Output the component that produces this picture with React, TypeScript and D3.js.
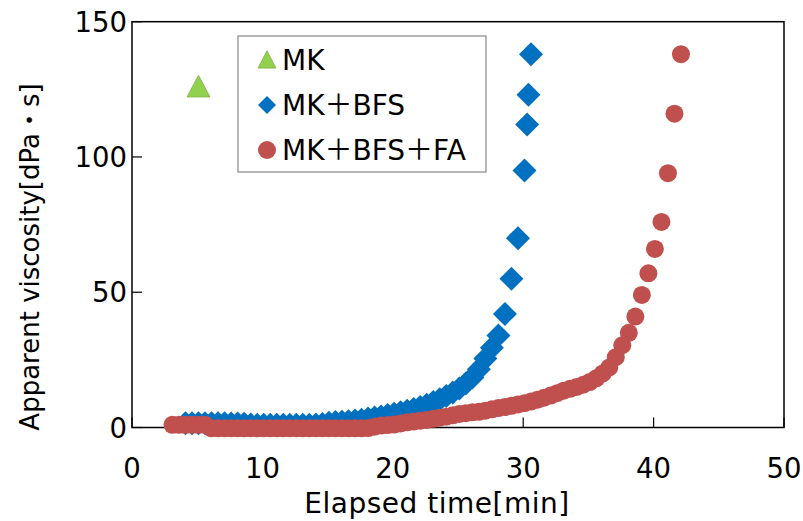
import React from "react";
import * as d3 from "d3";

const W = 803;
const H = 521;

const xTicks = [0, 10, 20, 30, 40, 50];
const yTicks = [0, 50, 100, 150];

const mkTime = [5.1];
const mkVisc = [126];

const bfsTime = [
  4.1, 4.6, 5.1, 5.6, 6.1, 6.6, 7.1, 7.6, 8.1, 8.6, 9.1, 9.6, 10.1, 10.6, 11.1, 11.6,
  12.1, 12.6, 13.1, 13.6, 14.1, 14.6, 15.1, 15.6, 16.1, 16.6, 17.1, 17.6, 18.1, 18.6,
  19.1, 19.6, 20.1, 20.6, 21.1, 21.6, 22.1, 22.6, 23.1, 23.6, 24.1, 24.6, 25.1, 25.6,
  26.1, 26.6, 27.1, 27.6, 28.1, 28.6, 29.1, 29.6, 30.1, 30.3, 30.4, 30.6,
];
const bfsVisc = [
  1.6, 1.6, 1.6, 1.6, 1.6, 1.6, 1.6, 1.5, 1.5, 1.4, 1.1, 1.0, 1.0, 1.0, 1.0, 1.0,
  1.0, 1.0, 1.0, 1.0, 1.1, 1.3, 1.8, 2.0, 2.1, 2.3, 2.6, 2.9, 3.3, 3.7,
  4.1, 4.6, 5.1, 5.6, 6.2, 6.8, 7.6, 8.4, 9.4, 10.4, 11.6, 12.9, 14.4, 16.3,
  18.5, 21.5, 25.5, 29.5, 34, 42, 55, 70, 95, 112, 123, 138,
];

const faTime = [
  3.1, 3.6, 4.1, 4.6, 5.1, 5.6, 6.1, 6.6, 7.1, 7.6, 8.1, 8.6, 9.1, 9.6, 10.1, 10.6,
  11.1, 11.6, 12.1, 12.6, 13.1, 13.6, 14.1, 14.6, 15.1, 15.6, 16.1, 16.6, 17.1, 17.6,
  18.1, 18.6, 19.1, 19.6, 20.1, 20.6, 21.1, 21.6, 22.1, 22.6, 23.1, 23.6, 24.1, 24.6,
  25.1, 25.6, 26.1, 26.6, 27.1, 27.6, 28.1, 28.6, 29.1, 29.6, 30.1, 30.6, 31.1, 31.6,
  32.1, 32.6, 33.1, 33.6, 34.1, 34.6, 35.1, 35.6, 36.1, 36.6, 37.1, 37.6, 38.1, 38.6,
  39.1, 39.6, 40.1, 40.6, 41.1, 41.6, 42.1,
];
const faVisc = [
  1.0, 1.0, 1.0, 1.0, 1.0, 1.0, -0.3, -0.3, -0.3, -0.3, -0.3, -0.3, -0.3, -0.3, -0.3, -0.3,
  -0.3, -0.3, -0.3, -0.3, -0.3, -0.3, -0.3, -0.3, -0.3, -0.3, -0.3, -0.3, -0.3, -0.3,
  -0.2, 0.3, 0.7, 0.9, 1.1, 1.5, 1.9, 2.2, 2.5, 2.8, 3.2, 3.6, 4.0, 4.5,
  5.0, 5.3, 5.6, 5.8, 6.2, 6.7, 7.2, 7.6, 8.0, 8.5, 9.0, 9.6, 10.3, 11.0,
  11.8, 12.7, 13.6, 14.3, 15.0, 15.8, 16.8, 18.2, 20.0, 22.2, 26.0, 30.4, 35.0, 41.0,
  49.0, 57.0, 66.0, 76.0, 94.0, 116.0, 138.0,
];

const legendLabels = ["MK", "MK＋BFS", "MK＋BFS＋FA"];

const GREEN = "#92D050";
const BLUE = "#0070C0";
const RED = "#C0504D";
const FONT = "'DejaVu Sans', Verdana, 'Noto Sans CJK JP', sans-serif";

const diamond = (s: number) => `M0,${-s}L${s},0L0,${s}L${-s},0Z`;
const tri = (w: number) => {
  const h = w * 0.9;
  return `M0,${-h / 2 - 1}L${w / 2},${h / 2}L${-w / 2},${h / 2}Z`;
};

export default function App() {
  const x = d3.scaleLinear().domain([0, 50]).range([132, 784]);
  const y = d3.scaleLinear().domain([0, 150]).range([427.5, 21.7]);
  const [x0, x1] = x.range();
  const [y0, y1] = y.range();

  const legX = 238;
  const legY = 36;
  const legW = 248;
  const legH = 136;
  const rows = [60, 105, 150];

  return (
    <svg
      width={W}
      height={H}
      style={{ position: "absolute", left: 0, top: 0, background: "#fff" }}
      fontFamily={FONT}
    >
      <rect x={0} y={0} width={W} height={H} fill="#fff" />
      <rect x={x0} y={y1} width={x1 - x0} height={y0 - y1} fill="none" stroke="#000" strokeWidth={1.5} />
      {xTicks.map((t) => (
        <g key={"xt" + t}>
          <line x1={x(t)} x2={x(t)} y1={y0} y2={y0 - 10} stroke="#000" strokeWidth={1.2} />
          <text x={x(t)} y={478} fontSize={27.5} textAnchor="middle" fill="#000">
            {t}
          </text>
        </g>
      ))}
      {yTicks.map((t) => (
        <g key={"yt" + t}>
          <line x1={x0} x2={x0 + 10} y1={y(t)} y2={y(t)} stroke="#000" strokeWidth={1.2} />
          <text x={127} y={y(t) + 10} fontSize={27.5} textAnchor="end" fill="#000">
            {t}
          </text>
        </g>
      ))}
      <text x={437} y={513} fontSize={28} letterSpacing={0.5} textAnchor="middle" fill="#000">
        Elapsed time[min]
      </text>
      <text
        transform={`translate(39,${257}) rotate(-90)`}
        fontSize={26}
        textAnchor="middle"
        fill="#000"
      >
        Apparent viscosity[dPa・s]
      </text>

      {mkTime.map((t, i) => (
        <path
          key={"mk" + i}
          d={tri(23)}
          transform={`translate(${x(t)},${y(mkVisc[i])})`}
          fill={GREEN}
          stroke="#7FB040"
          strokeWidth={0.8}
        />
      ))}
      {bfsTime.map((t, i) => (
        <path
          key={"b" + i}
          d={diamond(12)}
          transform={`translate(${x(t)},${y(bfsVisc[i])})`}
          fill={BLUE}
        />
      ))}
      {faTime.map((t, i) => (
        <circle key={"f" + i} cx={x(t)} cy={y(faVisc[i])} r={9} fill={RED} />
      ))}

      <rect x={legX} y={legY} width={legW} height={legH} fill="#fff" stroke="#888" strokeWidth={1.2} />
      <path d={tri(18)} transform={`translate(267,${rows[0]})`} fill={GREEN} stroke="#7FB040" strokeWidth={0.8} />
      <path d={diamond(9)} transform={`translate(267,${rows[1]})`} fill={BLUE} />
      <circle cx={267} cy={rows[2]} r={9} fill={RED} />
      {legendLabels.map((l, i) => (
        <text key={l} x={282} y={rows[i] + 10} fontSize={28} fill="#000">
          {l}
        </text>
      ))}
    </svg>
  );
}
